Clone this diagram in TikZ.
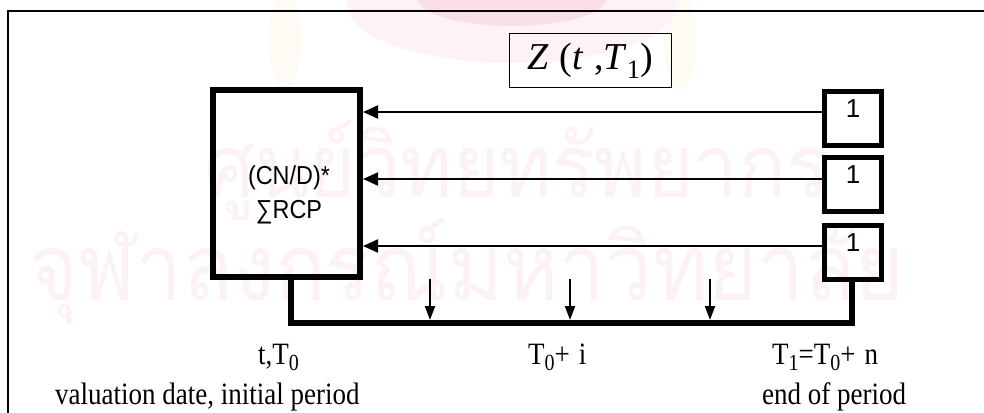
\documentclass[tikz,border=0pt]{standalone}
\usepackage{fontspec}
\setmainfont{Liberation Serif}
\newfontfamily\arialf{Liberation Sans}
\newfontfamily\thaifont[Script=Thai]{Loma}
\usetikzlibrary{arrows.meta}
\definecolor{wmpink}{RGB}{252,242,246}
\definecolor{logopink}{RGB}{253,243,246}
\definecolor{logored}{RGB}{249,222,230}
\definecolor{logoyel}{RGB}{253,251,244}
\newcommand\sbx[1]{\raisebox{-0.22em}{\fontsize{20}{20}\selectfont #1}}
\begin{document}
\begin{tikzpicture}[x=1pt,y=-1pt,
  bigbox/.style={draw, line width=6pt, minimum width=147pt, minimum height=187pt, inner sep=0pt},
  onebox/.style={draw, line width=5pt, minimum width=57pt, minimum height=54pt, inner sep=0pt},
  zbox/.style={draw, line width=1.5pt, minimum width=162pt, minimum height=54pt, inner sep=0pt},
  flow/.style={line width=2pt, -{Triangle[length=15pt,width=13pt]}},
  tick/.style={line width=2pt, -{Triangle[length=14pt,width=10pt]}},
  rail/.style={line width=6pt, line join=miter},
  sanstext/.style={font=\arialf\fontsize{26}{34}\selectfont, inner sep=0pt, align=center},
  serif/.style={font=\fontsize{27}{30}\selectfont, inner sep=0pt},
  wm/.style={inner sep=0pt, text=wmpink}
]
\useasboundingbox (0,0) rectangle (984,412);
\clip (0,0) rectangle (984,412);
% faint watermark logo
\fill[logoyel] (285,40) ellipse (16 and 50);
\fill[logoyel] (680,40) ellipse (16 and 50);
\fill[logopink] (512,5) ellipse (165 and 58);
\fill[logored] (512,-2) ellipse (95 and 28);
% faint watermark text
\node[wm] (wm1) at (517,170) {\resizebox*{625pt}{100pt}{\thaifont ศูนย์วิทยทรัพยากร}};
\node[wm] (wm2) at (467,272) {\resizebox*{875pt}{106pt}{\thaifont จุฬาลงกรณ์มหาวิทยาลัย}};
% frame
\draw[line width=2pt] (8,11) rectangle (1000,430);
% title box
\node[zbox] (Z) at (590.5,60.5) {\fontsize{38}{42}\selectfont\textit{Z}\;(\textit{t}\;,\textit{T}\textsubscript{1})};
% left box
\node[bigbox] (L) at (286.5,183.5) {};
\node[sanstext] (Ltxt) at (289,195) {\scalebox{0.9}[1]{(CN/D)*}\\\scalebox{0.9}[1]{∑RCP}};
% right boxes
\node[onebox] (r1) at (853,118.5) {};
\node[onebox] (r2) at (853,184.5) {};
\node[onebox] (r3) at (853,252) {};
\node[sanstext] (n1) at (853,109) {1};
\node[sanstext] (n2) at (853,175) {1};
\node[sanstext] (n3) at (853,243) {1};
% flows
\coordinate (a1) at ([yshift=6.5pt]r1.west);
\coordinate (a2) at ([yshift=5.5pt]r2.west);
\coordinate (a3) at ([yshift=6pt]r3.west);
\draw[flow] (a1) -- (a1 -| L.east);
\draw[flow] (a2) -- (a2 -| L.east);
\draw[flow] (a3) -- (a3 -| L.east);
% rail
\coordinate (bl) at (291,323);
\coordinate (br) at (852,323);
\draw[rail] (L.south -| bl) -- (bl) -- (br) -- (r3.south -| br);
% ticks
\coordinate (d1) at (430,279);
\coordinate (d2) at (570,279);
\coordinate (d3) at (710,279);
\coordinate (e1) at (430,320);
\coordinate (e2) at (570,320);
\coordinate (e3) at (710,320);
\draw[tick] (d1) -- (e1);
\draw[tick] (d2) -- (e2);
\draw[tick] (d3) -- (e3);
% labels
\node[serif, anchor=base west] (t0) at (258,364) {\scalebox{1}[1.15]{t,T\sbx{0}}};
\node[serif, anchor=base west] (ti) at (528,364) {\scalebox{1}[1.15]{T\sbx{0}+\hspace{9pt}i}};
\node[serif, anchor=base west] (tn) at (772,364) {\scalebox{1}[1.15]{T\sbx{1}=T\sbx{0}+\hspace{9pt}n}};
\node[serif, anchor=base west] (vd) at (55,404) {\scalebox{1}[1.15]{valuation date, initial period}};
\node[serif, anchor=base west] (ep) at (762,404) {\scalebox{1}[1.15]{end of period}};
\end{tikzpicture}
\end{document}
